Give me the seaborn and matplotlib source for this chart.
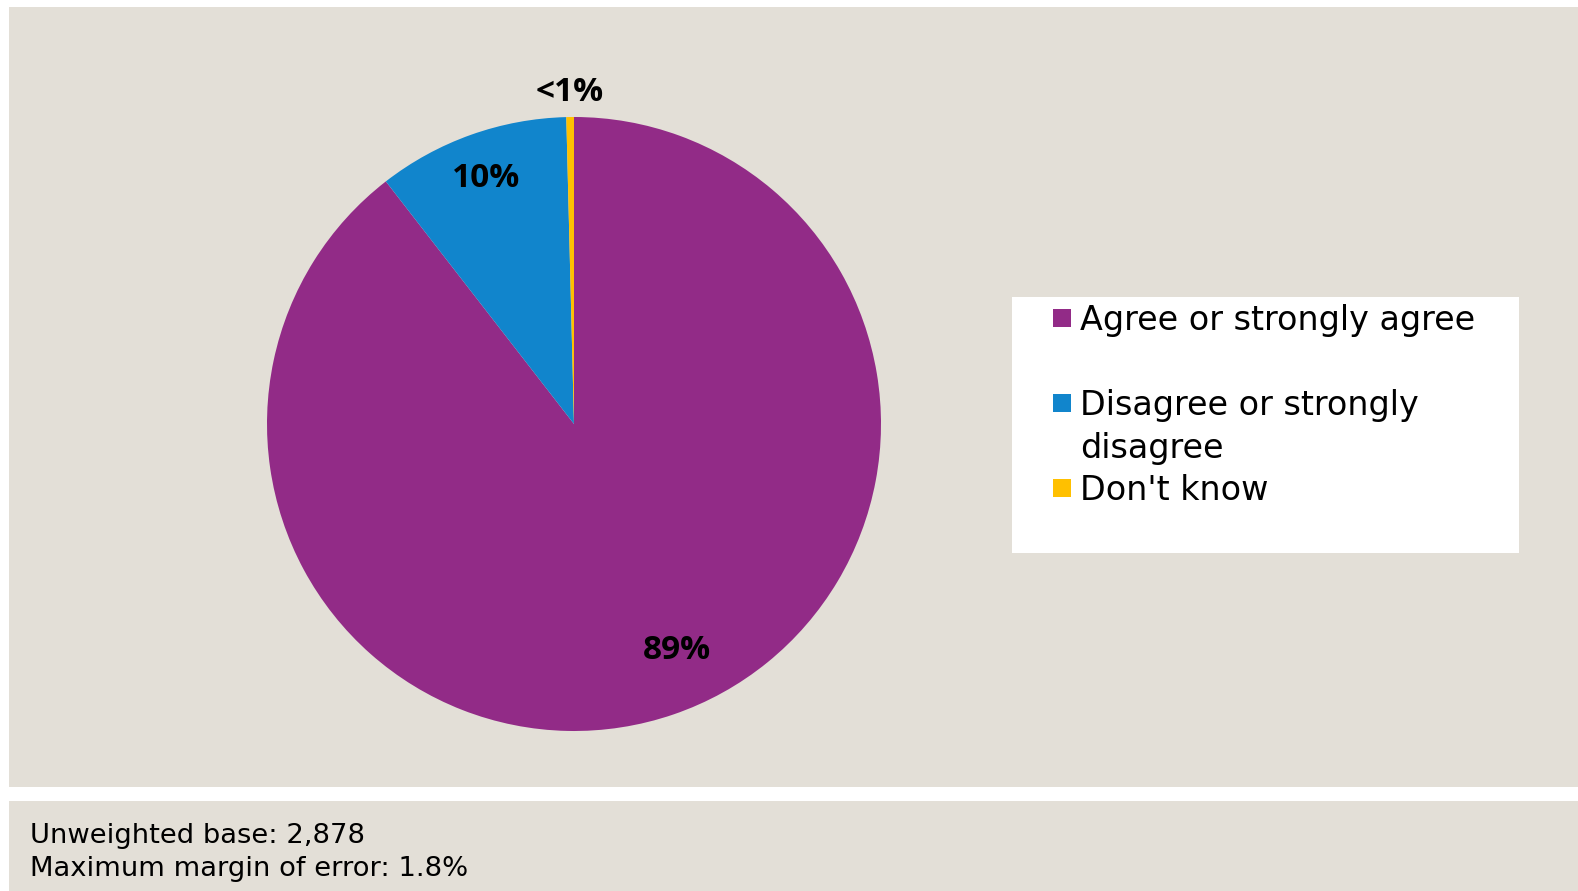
import matplotlib
matplotlib.use("Agg")
import matplotlib.pyplot as plt
import seaborn as sns
import numpy as np
from matplotlib.patches import Rectangle

# survey answers
categories = ["Agree or strongly agree", "Disagree or strongly\ndisagree", "Don't know"]
shares = [89.5, 10.1, 0.4]
share_labels = ["89%", "10%", "<1%"]
colours = ["#922B87", "#1185CC", "#FFC000"]
notes = ["Unweighted base: 2,878", "Maximum margin of error: 1.8%"]

sns.set_theme(style="white")
plt.rcParams["font.family"] = ["DejaVu Sans"]

W, H = 1578, 891
fig = plt.figure(figsize=(W / 100, H / 100), dpi=100, facecolor="white")


def box(x0, y0, x1, y1):
    # pixel box (top-left origin) -> figure fractions
    return [x0 / W, 1 - y1 / H, (x1 - x0) / W, (y1 - y0) / H]


bg = "#E3DFD7"
for b in [box(9, 7, W, 787), box(9, 801, W, H)]:
    fig.add_artist(Rectangle((b[0], b[1]), b[2], b[3], transform=fig.transFigure,
                             facecolor=bg, edgecolor="none", zorder=0))

# pie
ax = fig.add_axes(box(267, 117, 881, 731))
ax.set_facecolor("none")
palette = sns.color_palette(colours)
wedges, _ = ax.pie(shares, colors=palette, startangle=90, counterclock=False,
                   radius=1, wedgeprops=dict(linewidth=0))
ax.set_xlim(-1, 1)
ax.set_ylim(-1, 1)
ax.axis("off")

# distance from centre and small angle nudge for each label
label_dist = [0.81, 0.85, 1.08]
label_nudge = [5.5, 0, 0]
for w, lab, d, nd in zip(wedges, share_labels, label_dist, label_nudge):
    ang = np.deg2rad((w.theta1 + w.theta2) / 2 + nd)
    ax.text(d * np.cos(ang), d * np.sin(ang), lab, ha="center", va="center",
            fontsize=24, fontweight="bold", family=["Open Sans", "DejaVu Sans"],
            color="black")

# legend box
lx0, ly0 = 1012, 297
lax = fig.add_axes(box(lx0, ly0, 1519, 553))
lax.set_facecolor("white")
lax.set_xlim(0, 1519 - lx0)
lax.set_ylim(553 - ly0, 0)
lax.set_xticks([])
lax.set_yticks([])
for s in lax.spines.values():
    s.set_visible(False)

marker_y = [318.5, 403.5, 488.5]
baselines = [330, 415, 500]
for cat, col, my, bl in zip(categories, palette, marker_y, baselines):
    lax.scatter([1061.5 - lx0], [my - ly0], marker="s", s=187, color=col, linewidths=0)
    for i, line in enumerate(cat.split("\n")):
        lax.text(1080 - lx0, bl - ly0 + 43 * i, line, va="baseline", ha="left",
                 fontsize=24, color="black")

# footer
for i, t in enumerate(notes):
    fig.text(30 / W, 1 - (843 + 33 * i) / H, t, va="baseline", ha="left",
             fontsize=19.7, color="black")

fig.savefig("out.png", dpi=100, facecolor="white")
